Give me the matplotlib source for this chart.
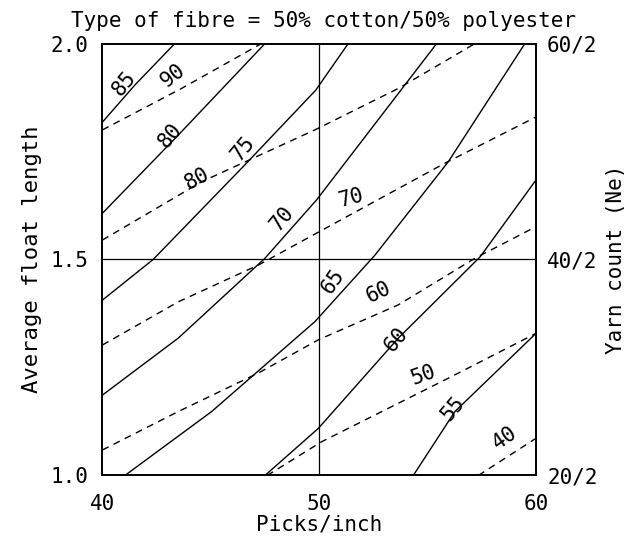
import matplotlib
matplotlib.use("Agg")
import matplotlib.pyplot as plt

# Contour lines: x = picks/inch, y = average float length
solid_levels = [85, 80, 75, 70, 65, 60, 55]
solid_picks = [
    [40.0, 41.50, 43.34],
    [40.0, 43.50, 47.50],
    [40.0, 42.34, 46.57, 49.84, 51.34],
    [40.0, 43.50, 47.50, 49.88, 52.88, 55.42],
    [41.04, 45.04, 49.80, 52.57, 55.95, 59.49],
    [47.50, 49.96, 53.65, 57.42, 60.0],
    [54.34, 56.26, 60.0],
]
solid_float = [
    [1.818, 1.904, 2.0],
    [1.607, 1.788, 2.0],
    [1.406, 1.500, 1.719, 1.892, 2.0],
    [1.186, 1.318, 1.503, 1.638, 1.834, 2.0],
    [1.0, 1.148, 1.356, 1.510, 1.726, 2.0],
    [1.0, 1.109, 1.318, 1.506, 1.684],
    [1.0, 1.148, 1.329],
]

dashed_levels = [90, 80, 70, 60, 50, 40]
dashed_picks = [
    [40.0, 43.65, 47.34],
    [40.0, 44.58, 49.80, 53.65, 57.19],
    [40.0, 43.50, 47.19, 49.88, 55.80, 60.0],
    [40.0, 43.50, 47.19, 49.96, 53.65, 57.19, 60.0],
    [47.60, 50.11, 55.95, 60.0],
    [57.34, 60.0],
]
dashed_float = [
    [1.800, 1.896, 2.0],
    [1.545, 1.680, 1.800, 1.896, 2.0],
    [1.302, 1.402, 1.487, 1.561, 1.723, 1.830],
    [1.059, 1.148, 1.237, 1.314, 1.395, 1.503, 1.576],
    [1.0, 1.078, 1.225, 1.329],
    [1.0, 1.086],
]

# contour label placement (text, x, y, rotation)
labels = [
    ("85", 40.98, 1.908, 50), ("90", 43.27, 1.927, 38),
    ("80", 43.11, 1.788, 50), ("80", 44.35, 1.688, 28),
    ("75", 46.50, 1.757, 50), ("70", 48.27, 1.595, 50),
    ("70", 51.50, 1.642, 15), ("65", 50.65, 1.449, 55),
    ("60", 52.72, 1.425, 25), ("60", 53.57, 1.314, 50),
    ("50", 54.80, 1.233, 20), ("55", 56.18, 1.156, 50),
    ("40", 58.57, 1.086, 35),
]

x_ticks = [40, 50, 60]
y_ticks = [1.0, 1.5, 2.0]
yarn_counts = ["20/2", "40/2", "60/2"]

FONT = "DejaVu Sans Mono"
plt.rcParams["font.family"] = FONT

fig = plt.figure(figsize=(6.4, 5.44), dpi=100)
ax = fig.add_axes([0.160, 0.126, 0.6775, 0.794])

for xs, ys in zip(solid_picks, solid_float):
    ax.plot(xs, ys, color="black", lw=1.0)
for xs, ys in zip(dashed_picks, dashed_float):
    ax.plot(xs, ys, color="black", lw=1.0, dashes=(5, 4))

for txt, lx, ly, rot in labels:
    ax.text(lx, ly, txt, rotation=rot, ha="center", va="center",
            fontsize=15, rotation_mode="anchor")

ax.axvline(50, color="black", lw=0.9)
ax.axhline(1.5, color="black", lw=0.9)

ax.set_xlim(40, 60)
ax.set_ylim(1.0, 2.0)
ax.set_xticks(x_ticks)
ax.set_xticklabels([str(v) for v in x_ticks])
ax.set_yticks(y_ticks)
ax.set_yticklabels([f"{v:.1f}" for v in y_ticks])
ax.tick_params(length=0, labelsize=15)
ax.tick_params(axis="x", pad=13)
ax.tick_params(axis="y", pad=10)
for sp in ax.spines.values():
    sp.set_linewidth(1.4)

ax.set_xlabel("Picks/inch", fontsize=15, labelpad=1)
ax.set_ylabel("Average float length", fontsize=16, labelpad=6)

ax2 = ax.twinx()
ax2.set_ylim(1.0, 2.0)
ax2.set_yticks(y_ticks)
ax2.set_yticklabels(yarn_counts)
ax2.tick_params(length=0, labelsize=15, pad=8)
ax2.set_ylabel("Yarn count (Ne)", fontsize=15, labelpad=6)
for sp in ax2.spines.values():
    sp.set_visible(False)

fig.text(0.505, 0.962, "Type of fibre = 50% cotton/50% polyester",
         ha="center", va="center", fontsize=15)

fig.savefig("out.png", dpi=100)
